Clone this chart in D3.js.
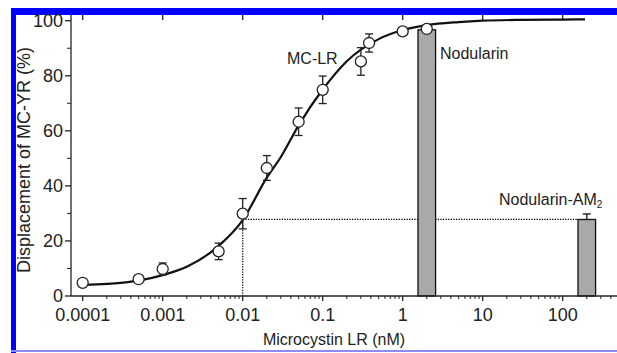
<!DOCTYPE html>
<html>
<head>
<meta charset="utf-8">
<title>Displacement of MC-YR</title>
<style>
  body { margin: 0; background: #fff; }
  text { font-family: "Liberation Sans", Arial, sans-serif; fill: #222; }
</style>
</head>
<body>
<svg id="chart" width="617" height="353"></svg>
<script src="https://cdn.jsdelivr.net/npm/d3@7/dist/d3.min.js"></script>
<script>
// MC-LR standard points (nM, % displacement, error)
var conc = [0.0001, 0.0005, 0.001, 0.005, 0.01, 0.02, 0.05, 0.1, 0.3, 0.38, 1, 2];
var displacement = [4.8, 6.1, 9.8, 16.2, 29.9, 46.5, 63.3, 74.9, 85.2, 91.9, 96.1, 97.0];
var errs = [0, 0, 2.2, 3, 5.5, 4.5, 5, 5, 5, 3.3, 0, 0];

// fitted curve
var curveConc = [0.0001, 0.0002, 0.0005, 0.001, 0.002, 0.005, 0.01, 0.02, 0.03, 0.05,
                 0.1, 0.2, 0.5, 1, 2, 5, 10, 30, 100, 190];
var curveValue = [4.0, 4.4, 5.6, 7.6, 10.6, 18.2, 27.6, 43.0, 50.5, 62.0,
                  75.0, 85.3, 93.3, 96.6, 98.4, 99.5, 100.0, 100.3, 100.4, 100.5];

// bars
var barNames = ["Nodularin", "Nodularin-AM"];
var barConc = [2, 200];
var barValue = [96.7, 27.8];
var barErr = [0, 2.0];

var refConc = 0.01;

var xTicks = [0.0001, 0.001, 0.01, 0.1, 1, 10, 100];
var xTickLabels = ["0.0001", "0.001", "0.01", "0.1", "1", "10", "100"];
var yTicks = [0, 20, 40, 60, 80, 100];
var yMinor = [10, 30, 50, 70, 90];

var svg = d3.select("#chart");

var x = d3.scaleLog().domain([0.0001, 100]).range([82.7, 562.7]);
var y = d3.scaleLinear().domain([0, 100]).range([296, 20.7]);

var axisLeft = 71, axisRight = 617, axisTop = 15, axisBottom = y(0);

// blue frame
svg.append("rect").attr("x", 11).attr("y", 8).attr("width", 5).attr("height", 345).attr("fill", "#0000ff");
svg.append("rect").attr("x", 11).attr("y", 8).attr("width", 606).attr("height", 7).attr("fill", "#0000ff");
svg.append("rect").attr("x", 11).attr("y", 350).attr("width", 606).attr("height", 2).attr("fill", "#8c8cff");

// dotted guide lines
var refLevel = barValue[1];
svg.append("line")
  .attr("x1", x(refConc)).attr("x2", x(barConc[1]) - 8.8)
  .attr("y1", y(refLevel)).attr("y2", y(refLevel))
  .attr("stroke", "#000").attr("stroke-width", 1.2).attr("stroke-dasharray", "1.3,1.3");
svg.append("line")
  .attr("x1", x(refConc)).attr("x2", x(refConc))
  .attr("y1", y(refLevel)).attr("y2", axisBottom)
  .attr("stroke", "#000").attr("stroke-width", 1.2).attr("stroke-dasharray", "1.3,1.3");

// bars
var bars = barConc.map(function(c, i) { return { c: c, v: barValue[i], e: barErr[i] }; });
svg.selectAll("rect.bar").data(bars).enter().append("rect")
  .attr("class", "bar")
  .attr("x", function(d) { return x(d.c) - 8.8; })
  .attr("width", 17.6)
  .attr("y", function(d) { return y(d.v); })
  .attr("height", function(d) { return axisBottom - y(d.v); })
  .attr("fill", "#a9a9a9").attr("stroke", "#111").attr("stroke-width", 1.3);

bars.forEach(function(d) {
  if (!d.e) return;
  svg.append("line").attr("x1", x(d.c)).attr("x2", x(d.c))
    .attr("y1", y(d.v)).attr("y2", y(d.v + d.e)).attr("stroke", "#111").attr("stroke-width", 1.3);
  svg.append("line").attr("x1", x(d.c) - 4).attr("x2", x(d.c) + 4)
    .attr("y1", y(d.v + d.e)).attr("y2", y(d.v + d.e)).attr("stroke", "#111").attr("stroke-width", 1.3);
});

// axes
var g = svg.append("g").attr("stroke", "#222").attr("stroke-width", 1.3);
g.append("line").attr("x1", axisLeft).attr("x2", axisRight).attr("y1", axisBottom).attr("y2", axisBottom);
g.append("line").attr("x1", axisLeft).attr("x2", axisLeft).attr("y1", axisTop).attr("y2", axisBottom);

// x ticks, major + minor
var minor = [];
for (var e = -4; e <= 2; e++) {
  for (var m = 2; m <= 9; m++) {
    var v = m * Math.pow(10, e);
    if (x(v) < axisRight - 2) minor.push(v);
  }
}
g.selectAll("line.xmin").data(minor).enter().append("line")
  .attr("x1", function(d) { return x(d); }).attr("x2", function(d) { return x(d); })
  .attr("y1", axisBottom).attr("y2", axisBottom + 3).attr("stroke-width", 1);
g.selectAll("line.xmaj").data(xTicks).enter().append("line")
  .attr("x1", function(d) { return x(d); }).attr("x2", function(d) { return x(d); })
  .attr("y1", axisBottom).attr("y2", axisBottom + 5);
g.selectAll("line.xtop").data(xTicks).enter().append("line")
  .attr("x1", function(d) { return x(d); }).attr("x2", function(d) { return x(d); })
  .attr("y1", axisTop).attr("y2", axisTop + 5);

svg.selectAll("text.xlab").data(xTicks).enter().append("text")
  .attr("x", function(d) { return x(d); })
  .attr("y", 321)
  .attr("text-anchor", "middle")
  .attr("font-size", 18)
  .text(function(d, i) { return xTickLabels[i]; });

// y ticks
g.selectAll("line.ymaj").data(yTicks).enter().append("line")
  .attr("x1", axisLeft - 6).attr("x2", axisLeft)
  .attr("y1", function(d) { return y(d); }).attr("y2", function(d) { return y(d); });
g.selectAll("line.ymin").data(yMinor).enter().append("line")
  .attr("x1", axisLeft - 4).attr("x2", axisLeft)
  .attr("y1", function(d) { return y(d); }).attr("y2", function(d) { return y(d); })
  .attr("stroke-width", 1);

svg.selectAll("text.ylab").data(yTicks).enter().append("text")
  .attr("x", 63)
  .attr("y", function(d) { return y(d); })
  .attr("dy", "0.36em")
  .attr("text-anchor", "end")
  .attr("font-size", 18)
  .text(function(d) { return d; });

// axis titles
svg.append("text")
  .attr("x", 334).attr("y", 345)
  .attr("text-anchor", "middle")
  .attr("font-size", 16)
  .text("Microcystin LR (nM)");
svg.append("text")
  .attr("transform", "translate(30,160) rotate(-90)")
  .attr("text-anchor", "middle")
  .attr("font-size", 18)
  .text("Displacement of MC-YR (%)");

// fitted curve
var line = d3.line()
  .x(function(d, i) { return x(curveConc[i]); })
  .y(function(d) { return y(d); })
  .curve(d3.curveMonotoneX);
svg.append("path")
  .attr("d", line(curveValue))
  .attr("fill", "none").attr("stroke", "#111").attr("stroke-width", 2.2);

// error bars + points
var pts = conc.map(function(c, i) { return { c: c, v: displacement[i], e: errs[i] }; });
pts.forEach(function(d) {
  if (!d.e) return;
  var cx = x(d.c);
  svg.append("line").attr("x1", cx).attr("x2", cx)
    .attr("y1", y(d.v - d.e)).attr("y2", y(d.v + d.e)).attr("stroke", "#222").attr("stroke-width", 1.3);
  [d.v - d.e, d.v + d.e].forEach(function(t) {
    svg.append("line").attr("x1", cx - 4).attr("x2", cx + 4)
      .attr("y1", y(t)).attr("y2", y(t)).attr("stroke", "#222").attr("stroke-width", 1.3);
  });
});
svg.selectAll("circle").data(pts).enter().append("circle")
  .attr("cx", function(d) { return x(d.c); })
  .attr("cy", function(d) { return y(d.v); })
  .attr("r", 5.5)
  .attr("fill", "#fff").attr("stroke", "#222").attr("stroke-width", 1.3);

// labels
svg.append("text").attr("x", 287).attr("y", 64).attr("font-size", 16).text("MC-LR");
svg.append("text").attr("x", 440).attr("y", 58.5).attr("font-size", 16).text(barNames[0]);
var am = svg.append("text").attr("x", 499).attr("y", 205).attr("font-size", 16).text(barNames[1]);
am.append("tspan").attr("font-size", 10).attr("dy", 3).text("2");
</script>
</body>
</html>
